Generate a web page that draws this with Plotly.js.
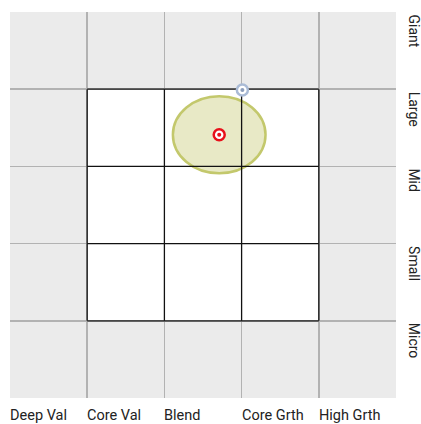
<!DOCTYPE html>
<html><head><meta charset="utf-8">
<script src="https://cdn.plot.ly/plotly-3.0.1.min.js"></script>
<style>body{margin:0;padding:0;background:#fff}#chart{width:421px;height:424px}</style>
</head><body><div id="chart"></div>
<script>
// Style categories (x, left-to-right) and size categories (y, bottom-to-top)
const styleLabels = ["Deep Val", "Core Val", "Blend", "Core Grth", "High Grth"];
const sizeLabels = ["Micro", "Small", "Mid", "Large", "Giant"];
// Style box (3x3) bounds in grid units
const boxX = [1, 4];
const boxY = [1, 4];
// Fund centroid and ownership zone
const centroidX = [2.71];
const centroidY = [3.41];
const zoneRadiusX = [0.6];
const zoneRadiusY = [0.5];
// Benchmark/index centroid
const indexX = [3.01];
const indexY = [3.99];

const font = "'Liberation Sans Narrow', 'Arial Narrow', Roboto, sans-serif";

const shapes = [];
shapes.push({type:'rect', xref:'x', yref:'y', x0:boxX[0], x1:boxX[1], y0:boxY[0], y1:boxY[1],
  fillcolor:'#ffffff', line:{width:0}, layer:'between'});
shapes.push({type:'circle', xref:'x', yref:'y',
  x0:centroidX[0]-zoneRadiusX[0], x1:centroidX[0]+zoneRadiusX[0],
  y0:centroidY[0]-zoneRadiusY[0], y1:centroidY[0]+zoneRadiusY[0],
  fillcolor:'rgba(200,202,120,0.42)', line:{color:'#c3c86c', width:2.5}, layer:'between'});
for (let v = boxX[0]; v <= boxX[1]; v++) {
  shapes.push({type:'line', xref:'x', yref:'y', x0:v, x1:v, y0:boxY[0], y1:boxY[1],
    line:{color:'#111', width:1.3}, layer:'between'});
}
for (let v = boxY[0]; v <= boxY[1]; v++) {
  shapes.push({type:'line', xref:'x', yref:'y', x0:boxX[0], x1:boxX[1], y0:v, y1:v,
    line:{color:'#111', width:1.3}, layer:'between'});
}

const annotations = [];
styleLabels.forEach((t, i) => annotations.push({
  text:t, xref:'x', yref:'paper', x:i, y:0, yshift:-7, xanchor:'left', yanchor:'top',
  showarrow:false, font:{family:font, size:14.5, color:'#222'}, xshift:-2
}));
sizeLabels.forEach((t, i) => annotations.push({
  text:t, xref:'paper', yref:'y', x:1, y:i+1, xshift:8, xanchor:'left', yanchor:'top',
  textangle:90, showarrow:false, font:{family:font, size:14, color:'#222'}
}));

const traces = [
  {x:indexX, y:indexY, type:'scatter', mode:'markers', hoverinfo:'skip',
   marker:{symbol:'circle', size:11, color:'#ffffff', line:{color:'#aabbd6', width:2.5}}},
  {x:indexX, y:indexY, type:'scatter', mode:'markers', hoverinfo:'skip',
   marker:{symbol:'circle', size:4, color:'#8d9fbd', line:{width:0}}},
  {x:centroidX, y:centroidY, type:'scatter', mode:'markers', hoverinfo:'skip',
   marker:{symbol:'circle', size:11, color:'#ffffff', line:{color:'#e8101a', width:2.5}}},
  {x:centroidX, y:centroidY, type:'scatter', mode:'markers', hoverinfo:'skip',
   marker:{symbol:'circle', size:4, color:'#e8101a', line:{width:0}}}
];

const layout = {
  width:421, height:424,
  margin:{l:10, r:25, t:12, b:26},
  paper_bgcolor:'#ffffff', plot_bgcolor:'#ebebeb',
  showlegend:false,
  xaxis:{range:[0,5], dtick:1, tick0:0, showticklabels:false, ticks:'', zeroline:false,
    showgrid:true, gridcolor:'#b2b2b2', gridwidth:1.5, fixedrange:true, showline:false},
  yaxis:{range:[0,5], dtick:1, tick0:0, showticklabels:false, ticks:'', zeroline:false,
    showgrid:true, gridcolor:'#b2b2b2', gridwidth:1.5, fixedrange:true, showline:false},
  shapes:shapes, annotations:annotations
};
Plotly.newPlot('chart', traces, layout, {displayModeBar:false, staticPlot:true});
</script></body></html>
